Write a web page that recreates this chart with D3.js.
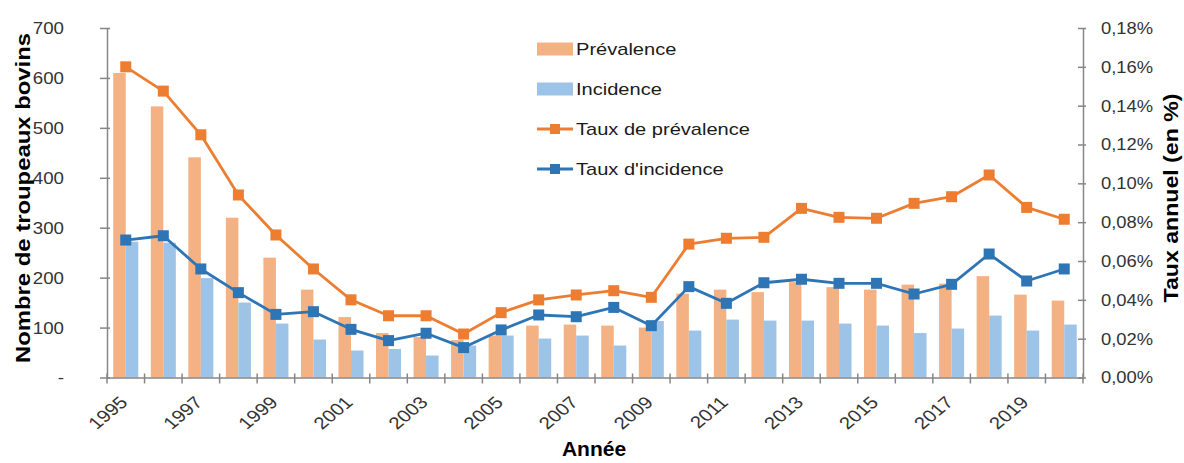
<!DOCTYPE html>
<html><head><meta charset="utf-8">
<script src="https://cdn.jsdelivr.net/npm/d3@7"></script>
<style>
html,body{margin:0;padding:0;background:#fff;}
svg{display:block;font-family:"Liberation Sans",Arial,sans-serif;}
</style></head>
<body>
<svg id="c" width="1184" height="463"></svg>
<script>
const years = d3.range(1995, 2021);
const prevalence = [610,543,441,320,240,176,121,89,81,75,84,104,106,104,100,168,176,171,191,181,176,186,188,203,166,154];
const incidence  = [272,270,199,150,108,76,54,57,44,64,84,78,84,64,113,94,116,114,114,108,104,89,98,124,94,106];
const tauxPrev = [0.160,0.1475,0.125,0.094,0.0734,0.0559,0.040,0.0318,0.0318,0.0224,0.0334,0.040,0.0425,0.0447,0.0413,0.0687,0.0717,0.0722,0.0871,0.0825,0.082,0.0897,0.0931,0.1043,0.0876,0.0815];
const tauxInc  = [0.0708,0.073,0.0559,0.0437,0.0325,0.0339,0.0248,0.019,0.0228,0.0154,0.0245,0.0322,0.0313,0.0361,0.0267,0.0468,0.0382,0.0488,0.0506,0.0485,0.0485,0.043,0.048,0.0636,0.0497,0.0559];
const leftTicks = [0,100,200,300,400,500,600,700];
const rightTicks = [0,0.02,0.04,0.06,0.08,0.10,0.12,0.14,0.16,0.18];
const xLabelYears = d3.range(1995, 2021, 2);
const legendItems = ["Prévalence","Incidence","Taux de prévalence","Taux d'incidence"];

const C = {barPrev:"#F4B183", barInc:"#9DC3E6", linePrev:"#ED7D31", lineInc:"#2E75B6", axis:"#868686", txt:"#333333"};
const L = 107, R = 1083, T = 28, B = 377.5;

const svg = d3.select("#c");
const x = d3.scaleBand().domain(years).range([L, R]).paddingInner(0).paddingOuter(0);
const xs = d3.scaleBand().domain(["p","i"]).range([0, x.bandwidth()]).paddingInner(0).paddingOuter(0.5);
const yL = d3.scaleLinear().domain([0,700]).range([B, T]);
const yR = d3.scaleLinear().domain([0,0.18]).range([B, T]);
const cx = d => x(d) + x.bandwidth()/2;

function stretch(sel, f){ sel.each(function(){ const w=this.getComputedTextLength(); d3.select(this).attr("textLength", w*f).attr("lengthAdjust","spacingAndGlyphs"); }); }

// bars
svg.append("g").selectAll("rect.p").data(years).join("rect")
  .attr("x", (d)=>x(d)+xs("p")).attr("width", xs.bandwidth())
  .attr("y", (d,i)=>yL(prevalence[i])).attr("height",(d,i)=>B-yL(prevalence[i]))
  .attr("fill", C.barPrev);
svg.append("g").selectAll("rect.i").data(years).join("rect")
  .attr("x", (d)=>x(d)+xs("i")).attr("width", xs.bandwidth())
  .attr("y", (d,i)=>yL(incidence[i])).attr("height",(d,i)=>B-yL(incidence[i]))
  .attr("fill", C.barInc);

// left axis
const gL = svg.append("g").attr("transform",`translate(${L},0)`)
  .call(d3.axisLeft(yL).tickValues(leftTicks).tickSizeInner(6).tickSizeOuter(0).tickPadding(37).tickFormat(d=>d===0?"-":d));
gL.select(".domain").attr("stroke",C.axis).attr("stroke-width",1.5);
gL.selectAll(".tick line").attr("stroke",C.axis).attr("stroke-width",1.5).attr("x2",-7).attr("x1",3);
gL.selectAll(".tick text").attr("font-size",17).attr("fill",C.txt).attr("font-family","Liberation Sans").call(stretch,1.1);

// right axis
const gR = svg.append("g").attr("transform",`translate(${R},0)`)
  .call(d3.axisRight(yR).tickValues(rightTicks).tickSizeInner(3).tickSizeOuter(0).tickPadding(15).tickFormat(d=>d3.format(".2f")(d).replace(".",",")+"%"));
gR.select(".domain").attr("stroke",C.axis).attr("stroke-width",1.5);
gR.selectAll(".tick line").attr("stroke",C.axis).attr("stroke-width",1.5).attr("x1",-5).attr("x2",3);
gR.selectAll(".tick text").attr("font-size",17).attr("fill",C.txt).attr("font-family","Liberation Sans").call(stretch,1.08);

// bottom axis
const gB = svg.append("g").attr("transform",`translate(0,${B})`)
  .call(d3.axisBottom(x).tickValues(xLabelYears).tickSize(0).tickPadding(0));
gB.select(".domain").attr("stroke",C.axis).attr("stroke-width",1.5);
gB.selectAll(".tick text").attr("font-size",17).attr("fill",C.txt).attr("font-family","Liberation Sans")
  .attr("text-anchor","end").attr("dy",0).attr("y",0)
  .attr("transform","translate(3,26) scale(1.2,1) rotate(-45)");
svg.append("g").selectAll("line").data(d3.range(years.length+1)).join("line")
  .attr("x1", i=>L + i*x.step()).attr("x2", i=>L + i*x.step())
  .attr("y1", B-4).attr("y2", B+6).attr("stroke",C.axis).attr("stroke-width",1.5);

// lines
function series(vals, color){
  const g = svg.append("g");
  g.append("path").datum(vals)
    .attr("d", d3.line().x((d,i)=>cx(years[i])).y(d=>yR(d)))
    .attr("fill","none").attr("stroke",color).attr("stroke-width",2.8).attr("stroke-linejoin","round");
  const s = 11;
  g.selectAll("rect").data(vals).join("rect")
    .attr("x",(d,i)=>cx(years[i])-s/2).attr("y",d=>yR(d)-s/2).attr("width",s).attr("height",s)
    .attr("fill",color);
}
series(tauxPrev, C.linePrev);
series(tauxInc, C.lineInc);

// legend
const lg = svg.append("g");
const rowY = [49,89,129,169];
legendItems.forEach((name,i)=>{
  const y = rowY[i];
  if(i<2){
    lg.append("rect").attr("x",537).attr("y",y-6.5).attr("width",36).attr("height",13).attr("fill",i===0?C.barPrev:C.barInc);
  } else {
    const col = i===2?C.linePrev:C.lineInc;
    lg.append("line").attr("x1",537).attr("x2",573).attr("y1",y).attr("y2",y).attr("stroke",col).attr("stroke-width",2.8);
    lg.append("rect").attr("x",555-5).attr("y",y-5).attr("width",10).attr("height",10).attr("fill",col);
  }
  lg.append("text").attr("x",576).attr("y",y+6).attr("font-size",17).attr("fill","#1a1a1a").text(name).call(stretch,1.18);
});

// axis titles
svg.append("text").attr("transform","translate(30,198) rotate(-90)").attr("text-anchor","middle")
  .attr("font-size",21).attr("font-weight","bold").attr("fill","#000").text("Nombre de troupeaux bovins")
  .attr("textLength",330).attr("lengthAdjust","spacingAndGlyphs");
svg.append("text").attr("transform","translate(1178,198) rotate(-90)").attr("text-anchor","middle")
  .attr("font-size",21).attr("font-weight","bold").attr("fill","#000").text("Taux annuel (en %)")
  .attr("textLength",209).attr("lengthAdjust","spacingAndGlyphs");
svg.append("text").attr("x",594).attr("y",456).attr("text-anchor","middle")
  .attr("font-size",21).attr("font-weight","bold").attr("fill","#000").text("Année");
</script>
</body></html>
